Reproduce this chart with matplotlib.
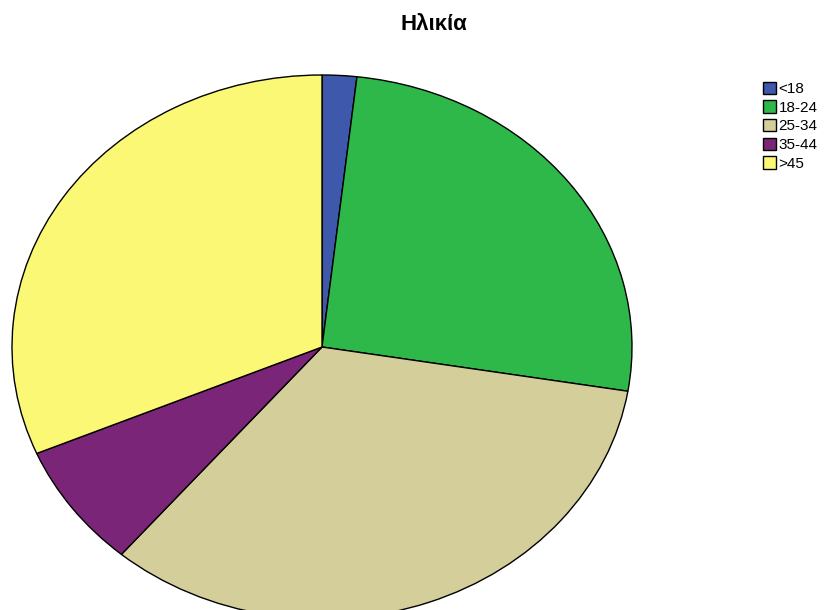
import matplotlib
matplotlib.use('Agg')
import matplotlib.pyplot as plt

# Age groups and their shares (%)
labels = ['<18', '18-24', '25-34', '35-44', '>45']
values = [1.8, 25.8, 33.6, 7.4, 31.4]
colors = ['#3e58ac', '#2eb84a', '#d4cf9a', '#7a2577', '#fbf876']

plt.rcParams['font.family'] = ['Liberation Sans', 'DejaVu Sans']

fig = plt.figure(figsize=(8.24, 6.10), dpi=100)
# axes box matches the elliptical pie (partly cut at the bottom)
ax = fig.add_axes([12 / 824, (610 - 619) / 610, 620 / 824, 544 / 610])
wedges, _ = ax.pie(values, colors=colors, startangle=90, counterclock=False,
                   radius=1, wedgeprops=dict(edgecolor='black', linewidth=1))
ax.set_aspect('auto')
ax.set_xlim(-1, 1)
ax.set_ylim(-1, 1)
ax.axis('off')

fig.text(434 / 824, 1 - 25 / 610, 'Ηλικία', ha='center', va='center',
         fontsize=16, fontweight='bold')

fig.legend(wedges, labels, loc='upper left', bbox_to_anchor=(752 / 824, 1 - 71 / 610),
           frameon=False, fontsize=11, handlelength=0.9, handleheight=0.85,
           handletextpad=0.15, labelspacing=0.28, borderpad=0.2)

fig.savefig('out.png', dpi=100)
